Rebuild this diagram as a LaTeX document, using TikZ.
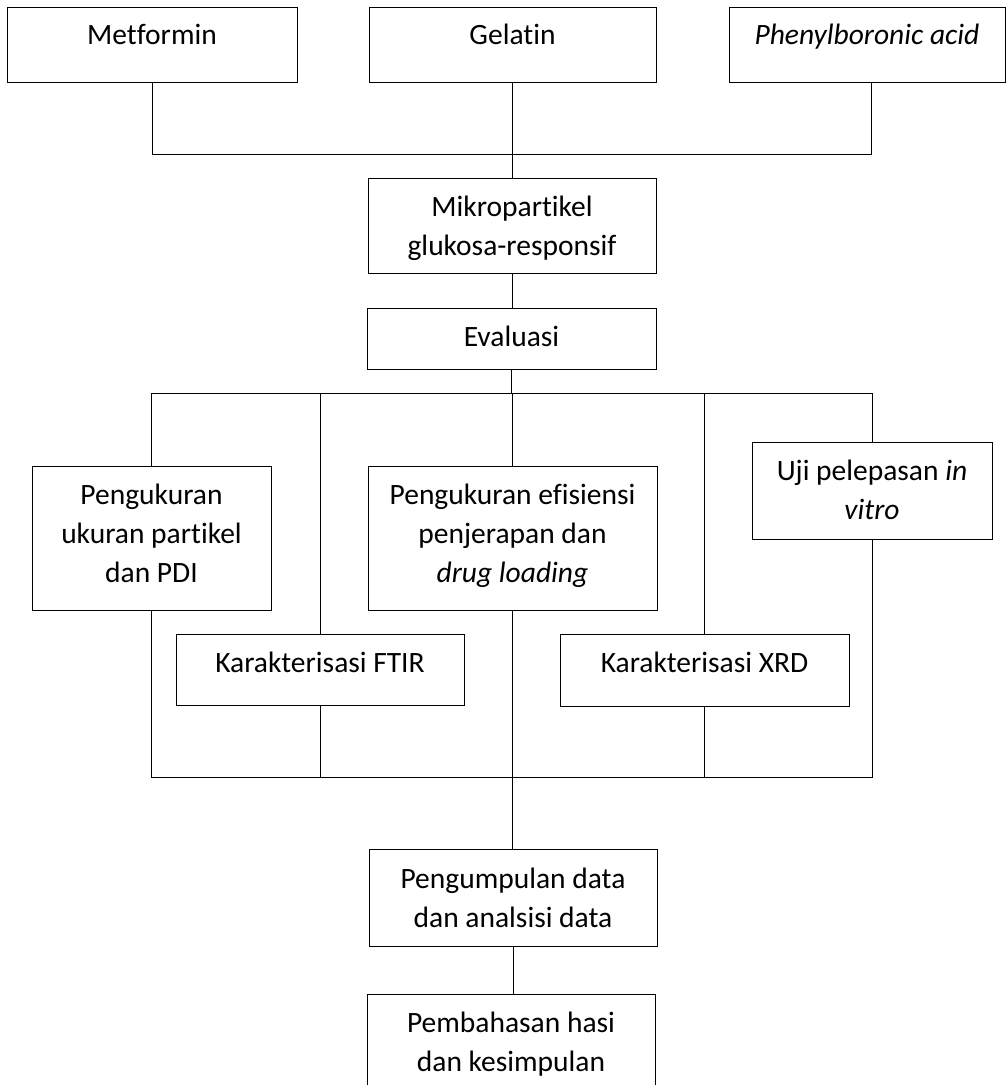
\documentclass[tikz,border=0pt]{standalone}
\usepackage{fontspec}
\setmainfont[Ligatures=NoCommon]{Carlito}
\begin{document}
\begin{tikzpicture}[x=1pt,y=-1pt,line width=1pt,
  box/.style={draw, inner sep=0pt, outer sep=0pt},
  txt/.style={anchor=base, align=flush center, text width=#1, inner sep=0pt,
              font=\fontsize{29.5}{39}\selectfont},
  txt/.default=280pt]
\useasboundingbox (0,0) rectangle (1007,1085);
\clip (0,0) rectangle (1007,1085);
% boxes
\node[box, minimum width=290pt, minimum height=75pt] (met) at (152,44.5) {};
\node[box, minimum width=287pt, minimum height=75pt] (gel) at (512.5,44.5) {};
\node[box, minimum width=276pt, minimum height=75pt] (phe) at (867,44.5) {};
\node[box, minimum width=288pt, minimum height=95pt] (mik) at (512,225.5) {};
\node[box, minimum width=289pt, minimum height=61pt] (eva) at (511.5,338.5) {};
\node[box, minimum width=239pt, minimum height=144pt] (pen) at (151.5,538) {};
\node[box, minimum width=289pt, minimum height=144pt] (efi) at (512.5,538) {};
\node[box, minimum width=240pt, minimum height=97pt] (uji) at (872,490.5) {};
\node[box, minimum width=288pt, minimum height=71pt] (ftir) at (320,669.5) {};
\node[box, minimum width=289pt, minimum height=72pt] (xrd) at (704.5,670) {};
\node[box, minimum width=288pt, minimum height=97pt] (pgd) at (513,897.5) {};
\node[box, minimum width=288pt, minimum height=126pt] (pmb) at (511,1057) {};
% texts
\node[txt] (tmet) at (152,44) {Metformin};
\node[txt] (tgel) at (512.5,44) {Gelatin};
\node[txt] (tphe) at (867,44) {\textit{Phenylboronic acid}};
\node[txt] (tmik) at (512,216) {Mikropartikel\\glukosa-responsif};
\node[txt] (teva) at (511.5,346) {Evaluasi};
\node[txt=235pt] (tpen) at (151.5,504) {Pengukuran\\ukuran partikel\\dan PDI};
\node[txt] (tefi) at (512.5,504) {Pengukuran efisiensi\\penjerapan dan\\\textit{drug loading}};
\node[txt=235pt] (tuji) at (872,480) {Uji pelepasan \textit{in}\\\textit{vitro}};
\node[txt] (tftir) at (320,672) {Karakterisasi FTIR};
\node[txt] (txrd) at (704.5,672) {Karakterisasi XRD};
\node[txt] (tpgd) at (513,888) {Pengumpulan data\\dan analsisi data};
\node[txt] (tpmb) at (511,1032) {Pembahasan hasi\\dan kesimpulan};
% connectors
\coordinate (t1) at (871,154);
\draw (met.south) |- (t1) -- (t1 |- phe.south);
\draw (gel.south) -- (gel.south |- mik.north);
\draw (mik.south) -- (mik.south |- eva.north);
\coordinate (t2l) at (152,393);
\coordinate (t2r) at (872,393);
\draw (eva.south) -- (eva.south |- t2l);
\draw (pen.north) |- (t2r) -- (uji.north);
\draw (ftir.north) -- (ftir.north |- t2l);
\draw (efi.north) -- (efi.north |- t2l);
\draw (xrd.north) -- (xrd.north |- t2l);
\coordinate (b2r) at (872,777);
\draw (pen.south) |- (b2r) -- (uji.south);
\draw (ftir.south) -- (ftir.south |- b2r);
\draw (efi.south) -- (efi.south |- pgd.north);
\draw (xrd.south) -- (xrd.south |- b2r);
\draw (pgd.south) -- (pgd.south |- pmb.north);
\end{tikzpicture}
\end{document}
